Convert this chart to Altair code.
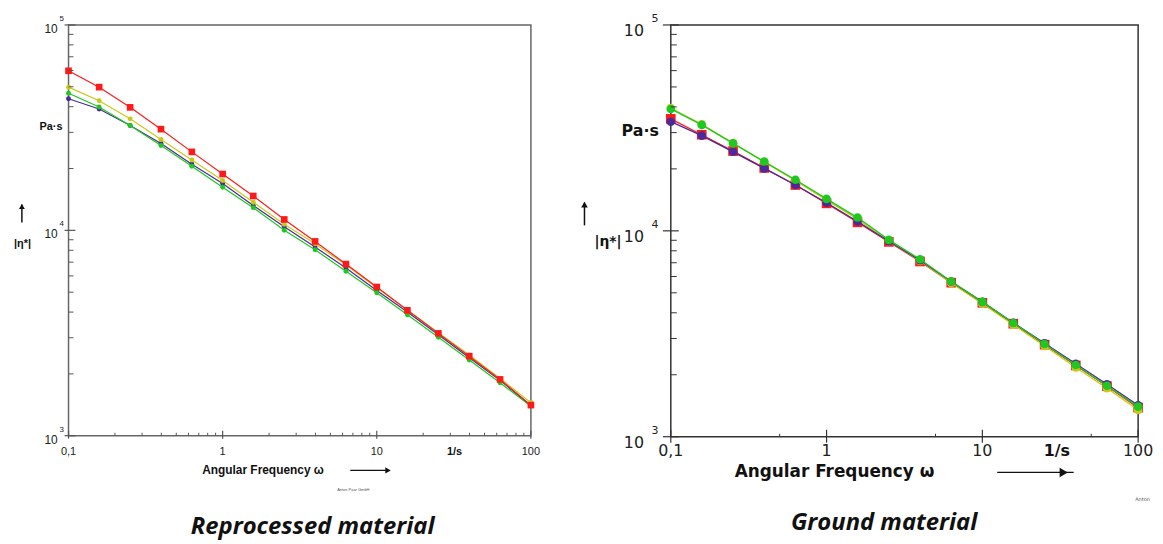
import altair as alt
import pandas as pd

# ---------------- data ----------------
freq = [0.1, 0.158, 0.251, 0.398, 0.631, 1, 1.58, 2.51, 3.98, 6.31, 10, 15.8, 25.1, 39.8, 63.1, 100]

left_red = [59800, 49800, 39700, 31100, 24100, 18800, 14700, 11300, 8830, 6850, 5300, 4080, 3150, 2440, 1880, 1410]
left_yellow = [49800, 42800, 34900, 27700, 22000, 17500, 13700, 10700, 8600, 6780, 5250, 4100, 3170, 2470, 1900, 1450]
left_green = [46500, 39900, 32400, 25900, 20500, 16200, 12900, 10000, 8040, 6320, 4970, 3880, 3020, 2340, 1810, 1390]
left_purple = [43700, 39000, 32400, 26500, 21000, 16900, 13200, 10400, 8300, 6550, 5100, 4000, 3100, 2400, 1860, 1400]

right_green = [39100, 32700, 26600, 21700, 17700, 14300, 11600, 9040, 7280, 5680, 4520, 3570, 2820, 2230, 1770, 1400]
right_yellow = [39500, 32900, 26700, 21600, 17500, 14100, 11400, 8900, 7150, 5580, 4430, 3500, 2760, 2170, 1720, 1350]
right_red = [35000, 29300, 24400, 20200, 16700, 13600, 11000, 8840, 7100, 5600, 4470, 3540, 2800, 2220, 1760, 1385]
right_purple = [33900, 29000, 24200, 20100, 16700, 13700, 11100, 8900, 7200, 5680, 4520, 3580, 2840, 2260, 1800, 1420]

y_ticks = [1000, 10000, 100000]
y_exps = ["3", "4", "5"]
y_minor = [2000, 3000, 4000, 5000, 6000, 7000, 8000, 9000,
           20000, 30000, 40000, 50000, 60000, 70000, 80000, 90000]
x_major = [0.1, 1, 10, 100]
x_labels = ["0,1", "1", "10", "100"]
x_minor_left = [0.2, 0.3, 0.4, 0.5, 0.6, 0.7, 0.8, 0.9, 2, 3, 4, 5, 6, 7, 8, 9,
                20, 30, 40, 50, 60, 70, 80, 90]
x_minor_right = [0.5, 5, 50]

COLORS = {"red": "#ff1a1a", "yellow": "#c9c91a", "green": "#1ec81e", "purple": "#4a2a9a"}


def one():
    return pd.DataFrame({"a": [0]})


def panel(series, W, H, st):
    xs = alt.Scale(type="log", domain=[0.1, 100], nice=False)
    ys = alt.Scale(type="log", domain=[1000, 100000], nice=False)
    layers = []
    # series lines + markers
    for name, vals in series:
        df = pd.DataFrame({"f": freq, "v": vals})
        base = alt.Chart(df).encode(
            x=alt.X("f:Q", scale=xs, axis=None),
            y=alt.Y("v:Q", scale=ys, axis=None),
        )
        layers.append(base.mark_line(color=COLORS[name], strokeWidth=st["lw"]))
        if name == "red":
            layers.append(base.mark_point(shape="square", filled=True, opacity=1,
                                          color=COLORS[name], size=st["sq"]))
        else:
            layers.append(base.mark_point(shape="circle", filled=True, opacity=1,
                                          color=COLORS[name], size=st["ci"]))
    tc = st["tick"]
    # y ticks
    layers.append(alt.Chart(pd.DataFrame({"v": y_minor})).mark_rule(color=tc, strokeWidth=1).encode(
        y=alt.Y("v:Q", scale=ys, axis=None), x=alt.value(0), x2=alt.value(st["ymin"])))
    layers.append(alt.Chart(pd.DataFrame({"v": y_ticks})).mark_rule(color=tc, strokeWidth=1.2).encode(
        y=alt.Y("v:Q", scale=ys, axis=None), x=alt.value(-st["ymaj_out"]), x2=alt.value(st["ymaj_in"])))
    # x ticks
    layers.append(alt.Chart(pd.DataFrame({"f": st["xminor"]})).mark_rule(color=tc, strokeWidth=1).encode(
        x=alt.X("f:Q", scale=xs, axis=None), y=alt.value(H), y2=alt.value(H - st["xmin"])))
    layers.append(alt.Chart(pd.DataFrame({"f": x_major})).mark_rule(color=tc, strokeWidth=1.2).encode(
        x=alt.X("f:Q", scale=xs, axis=None), y=alt.value(H + st["xmaj_out"]), y2=alt.value(H - st["xmaj_in"])))
    # y tick labels
    ydf = pd.DataFrame({"v": y_ticks, "t": ["10"] * 3, "e": y_exps})
    layers.append(alt.Chart(ydf).mark_text(align="right", baseline="middle", dy=st["ten_dy"],
                                           font=st["font"], fontSize=st["ten_fs"], color="#222").encode(
        y=alt.Y("v:Q", scale=ys, axis=None), x=alt.value(st["ten_x"]), text="t:N"))
    layers.append(alt.Chart(ydf).mark_text(align="center", baseline="middle", dy=st["exp_dy"],
                                           font=st["font"], fontSize=st["exp_fs"], color="#222").encode(
        y=alt.Y("v:Q", scale=ys, axis=None), x=alt.value(st["exp_x"]), text="e:N"))
    # x tick labels
    xdf = pd.DataFrame({"f": x_major, "t": x_labels})
    layers.append(alt.Chart(xdf).mark_text(align="center", baseline="middle",
                                           font=st["font"], fontSize=st["xl_fs"], color="#222").encode(
        x=alt.X("f:Q", scale=xs, axis=None), y=alt.value(H + st["xl_dy"]), text="t:N"))

    def txt(text, x, y, fs, align="center", weight="bold", font=None, style="normal", color="#111"):
        return alt.Chart(one()).mark_text(align=align, baseline="middle", fontSize=fs,
                                          fontWeight=weight, font=font or st["font"],
                                          fontStyle=style, color=color).encode(
            x=alt.value(x), y=alt.value(y), text=alt.value(text))

    layers.append(txt("1/s", st["unit_x"], H + st["xl_dy"], st["unit_fs"]))
    layers.append(txt("Angular Frequency ω", st["af_x"], H + st["af_dy"], st["af_fs"]))
    layers.append(txt("Pa·s", st["pa_x"], st["pa_y"], st["pa_fs"], align="right"))
    layers.append(txt("|η*|", st["eta_x"], st["eta_y"], st["eta_fs"], align="left"))
    layers.append(txt(st["small"], st["small_x"], H + st["small_dy"], st["small_fs"],
                      align=st["small_align"], weight="normal", color="#555"))
    layers.append(txt(st["title"], st["title_x"], H + st["title_dy"], st["title_fs"],
                      font="Open Sans", style="italic"))
    # right arrow
    layers.append(alt.Chart(one()).mark_rule(color="#111", strokeWidth=st["arr_w"]).encode(
        x=alt.value(st["arr_x1"]), x2=alt.value(st["arr_x2"]), y=alt.value(H + st["af_dy"])))
    layers.append(alt.Chart(one()).mark_point(shape="triangle-right", filled=True, opacity=1,
                                              color="#111", size=st["arr_head"]).encode(
        x=alt.value(st["arr_hx"]), y=alt.value(H + st["af_dy"])))
    # up arrow
    layers.append(alt.Chart(one()).mark_rule(color="#111", strokeWidth=1.5).encode(
        x=alt.value(st["up_x"]), y=alt.value(st["up_y1"]), y2=alt.value(st["up_y2"])))
    layers.append(alt.Chart(one()).mark_point(shape="triangle-up", filled=True, opacity=1,
                                              color="#111", size=st["up_head"]).encode(
        x=alt.value(st["up_x"]), y=alt.value(st["up_y1"] + 2)))

    return alt.layer(*layers).properties(
        width=W, height=H,
        view=alt.ViewBackground(stroke=st["frame"], strokeWidth=st["frame_w"]))


left_style = dict(
    lw=1.2, sq=45, ci=25, tick="#555", ymin=5, ymaj_out=4, ymaj_in=7,
    xminor=x_minor_left, xmin=3, xmaj_out=3, xmaj_in=5,
    font="Liberation Sans", ten_dy=4, ten_fs=12, ten_x=-11, exp_dy=-6, exp_fs=8, exp_x=-7,
    xl_fs=11, xl_dy=16, unit_x=389, unit_fs=11, af_x=196, af_dy=35, af_fs=12,
    pa_x=-6, pa_y=103, pa_fs=11, eta_x=-55, eta_y=221, eta_fs=11,
    small="Anton Paar GmbH", small_x=287, small_dy=55, small_fs=4, small_align="center",
    title="Reprocessed material", title_x=246, title_dy=92, title_fs=24,
    arr_w=1.3, arr_x1=284, arr_x2=320, arr_hx=322, arr_head=40,
    up_x=-47, up_y1=181, up_y2=199, up_head=35,
    frame="#666", frame_w=1.5,
)

right_style = dict(
    lw=1.3, sq=95, ci=75, tick="#333", ymin=6, ymaj_out=8, ymaj_in=8,
    xminor=x_minor_right, xmin=3, xmaj_out=6, xmaj_in=7,
    font="DejaVu Sans", ten_dy=6, ten_fs=16, ten_x=-27, exp_dy=-6, exp_fs=11, exp_x=-16,
    xl_fs=16, xl_dy=14, unit_x=389, unit_fs=16, af_x=165, af_dy=36, af_fs=17,
    pa_x=-12, pa_y=107, pa_fs=16, eta_x=-77, eta_y=219, eta_fs=14,
    small="Anton", small_x=468, small_dy=63, small_fs=5, small_align="left",
    title="Ground material", title_x=215, title_dy=87, title_fs=24,
    arr_w=1.3, arr_x1=329, arr_x2=406, arr_hx=396, arr_head=90,
    up_x=-87, up_y1=179, up_y2=202, up_head=45,
    frame="#333", frame_w=1.5,
)

left = panel([("purple", left_purple), ("green", left_green), ("yellow", left_yellow), ("red", left_red)],
             466, 414, left_style)
right = panel([("red", right_red), ("yellow", right_yellow), ("purple", right_purple), ("green", right_green)],
              471, 415, right_style)

chart = alt.hconcat(left, right, spacing=141, bounds="flush").properties(
    padding={"left": 5, "top": 2, "right": 0, "bottom": 0},
    background="white",
).configure_view(stroke="#555")

chart.save("out.html", embed_options={"renderer": "svg", "actions": False})
